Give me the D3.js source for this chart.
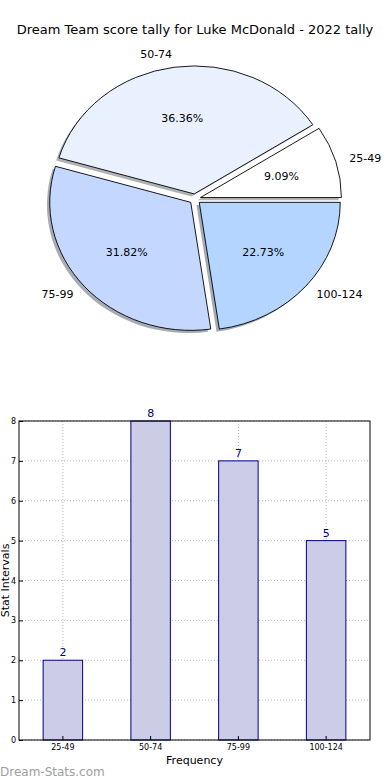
<!DOCTYPE html>
<html>
<head>
<meta charset="utf-8">
<script src="https://cdn.jsdelivr.net/npm/d3@7"></script>
<style>
  body { margin: 0; background: #fff; }
  svg { display: block; font-family: "DejaVu Sans", sans-serif; }
</style>
</head>
<body>
<script>
// datos del grafico
const categorias = ["25-49", "50-74", "75-99", "100-124"];
const frecuencias = [2, 8, 7, 5];
const coloresPie = ["#ffffff", "#e9f1ff", "#c4d8ff", "#b3d5ff"];
const ticksY = [0, 1, 2, 3, 4, 5, 6, 7, 8];

const svg = d3.select("body").append("svg")
  .attr("width", 390).attr("height", 780);

// titulo
svg.append("text")
  .attr("x", 195).attr("y", 34)
  .attr("text-anchor", "middle")
  .attr("font-size", 13)
  .text("Dream Team score tally for Luke McDonald - 2022 tally");

// ---------- pie (elipse, como matplotlib) ----------
const cx = 195, cy = 199, rx = 141, ry = 128;
const explode = 0.04;
const total = d3.sum(frecuencias);

// empieza en el este y gira antihorario
const pie = d3.pie().sort(null)
  .startAngle(Math.PI / 2)
  .endAngle(Math.PI / 2 - 2 * Math.PI);
const arcos = pie(frecuencias);
const arc = d3.arc().innerRadius(0).outerRadius(rx);

const pieG = svg.append("g");

function grupoCuna(g, d, ox, oy) {
  const m = (d.startAngle + d.endAngle) / 2;
  const dx = explode * rx * Math.sin(m);
  const dy = -explode * ry * Math.cos(m);
  return g.append("g")
    .attr("transform", `translate(${cx + dx + ox},${cy + dy + oy}) scale(1,${ry / rx})`);
}

// sombras
arcos.forEach((d, i) => {
  grupoCuna(pieG, d, -2.8, 2.6).append("path")
    .attr("d", arc(d))
    .attr("fill", d3.color(coloresPie[i]).darker(2.5))
    .attr("opacity", 0.5);
});
// cuñas
arcos.forEach((d, i) => {
  grupoCuna(pieG, d, 0, 0).append("path")
    .attr("d", arc(d))
    .attr("fill", coloresPie[i])
    .attr("stroke", "#000")
    .attr("stroke-width", 0.9)
    .attr("vector-effect", "non-scaling-stroke");
});

// etiquetas
arcos.forEach((d, i) => {
  const m = (d.startAngle + d.endAngle) / 2;
  const s = Math.sin(m), c = Math.cos(m);
  const bx = cx + explode * rx * s, by = cy - explode * ry * c;
  pieG.append("text")
    .attr("x", bx + 1.1 * rx * s)
    .attr("y", by - 1.1 * ry * c)
    .attr("dy", "0.35em")
    .attr("text-anchor", s > 0 ? "start" : "end")
    .attr("font-size", 11)
    .text(categorias[i]);
  pieG.append("text")
    .attr("x", bx + 0.6 * rx * s)
    .attr("y", by - 0.6 * ry * c)
    .attr("dy", "0.35em")
    .attr("text-anchor", "middle")
    .attr("font-size", 11)
    .text((d.value / total * 100).toFixed(2) + "%");
});

// ---------- barras ----------
const mIzq = 19, mDer = 370, mSup = 421, mInf = 740;

const x = d3.scaleBand().domain(categorias).range([mIzq, mDer]).paddingInner(0).paddingOuter(0);
const y = d3.scaleLinear().domain([0, 8]).range([mInf, mSup]);
const anchoBarra = x.bandwidth() * 0.45;

const barG = svg.append("g");

// grilla punteada
barG.selectAll(".gy").data(ticksY).join("line")
  .attr("x1", mIzq).attr("x2", mDer)
  .attr("y1", d => y(d)).attr("y2", d => y(d))
  .attr("stroke", "#b8b8b8").attr("stroke-dasharray", "1,2");
barG.selectAll(".gx").data(categorias).join("line")
  .attr("x1", d => x(d) + x.bandwidth() / 2).attr("x2", d => x(d) + x.bandwidth() / 2)
  .attr("y1", mSup).attr("y2", mInf)
  .attr("stroke", "#b8b8b8").attr("stroke-dasharray", "1,2");

// barras
barG.selectAll("rect.bar").data(frecuencias).join("rect")
  .attr("class", "bar")
  .attr("x", (d, i) => x(categorias[i]) + (x.bandwidth() - anchoBarra) / 2)
  .attr("y", d => y(d))
  .attr("width", anchoBarra)
  .attr("height", d => mInf - y(d))
  .attr("fill", "#cccce6")
  .attr("stroke", "#000080")
  .attr("stroke-width", 1);

// valores sobre barras
barG.selectAll("text.val").data(frecuencias).join("text")
  .attr("class", "val")
  .attr("x", (d, i) => x(categorias[i]) + x.bandwidth() / 2)
  .attr("y", d => y(d) - 4)
  .attr("text-anchor", "middle")
  .attr("font-size", 11)
  .attr("fill", "#000080")
  .text(d => d);

// marco
barG.append("rect")
  .attr("x", mIzq).attr("y", mSup)
  .attr("width", mDer - mIzq).attr("height", mInf - mSup)
  .attr("fill", "none").attr("stroke", "#000").attr("stroke-width", 1);

// ejes
const ejeY = barG.append("g")
  .attr("transform", `translate(${mIzq},0)`)
  .call(d3.axisLeft(y).tickValues(ticksY).tickSize(-4).tickPadding(3));
const ejeX = barG.append("g")
  .attr("transform", `translate(0,${mInf})`)
  .call(d3.axisBottom(x).tickSize(-4).tickPadding(4));
[ejeY, ejeX].forEach(e => {
  e.select(".domain").remove();
  e.selectAll("text").attr("font-size", 8).attr("font-family", "DejaVu Sans, sans-serif");
  e.selectAll("line").attr("stroke", "#000");
});

// etiquetas de ejes
svg.append("text")
  .attr("x", (mIzq + mDer) / 2).attr("y", 764)
  .attr("text-anchor", "middle").attr("font-size", 11)
  .text("Frequency");
svg.append("text")
  .attr("transform", `translate(9,${(mSup + mInf) / 2}) rotate(-90)`)
  .attr("text-anchor", "middle").attr("font-size", 11)
  .text("Stat Intervals");

// marca de agua
svg.append("text")
  .attr("x", 0).attr("y", 776)
  .attr("font-size", 12)
  .attr("fill", "#a0a0a0")
  .text("Dream-Stats.com");
</script>
</body>
</html>
